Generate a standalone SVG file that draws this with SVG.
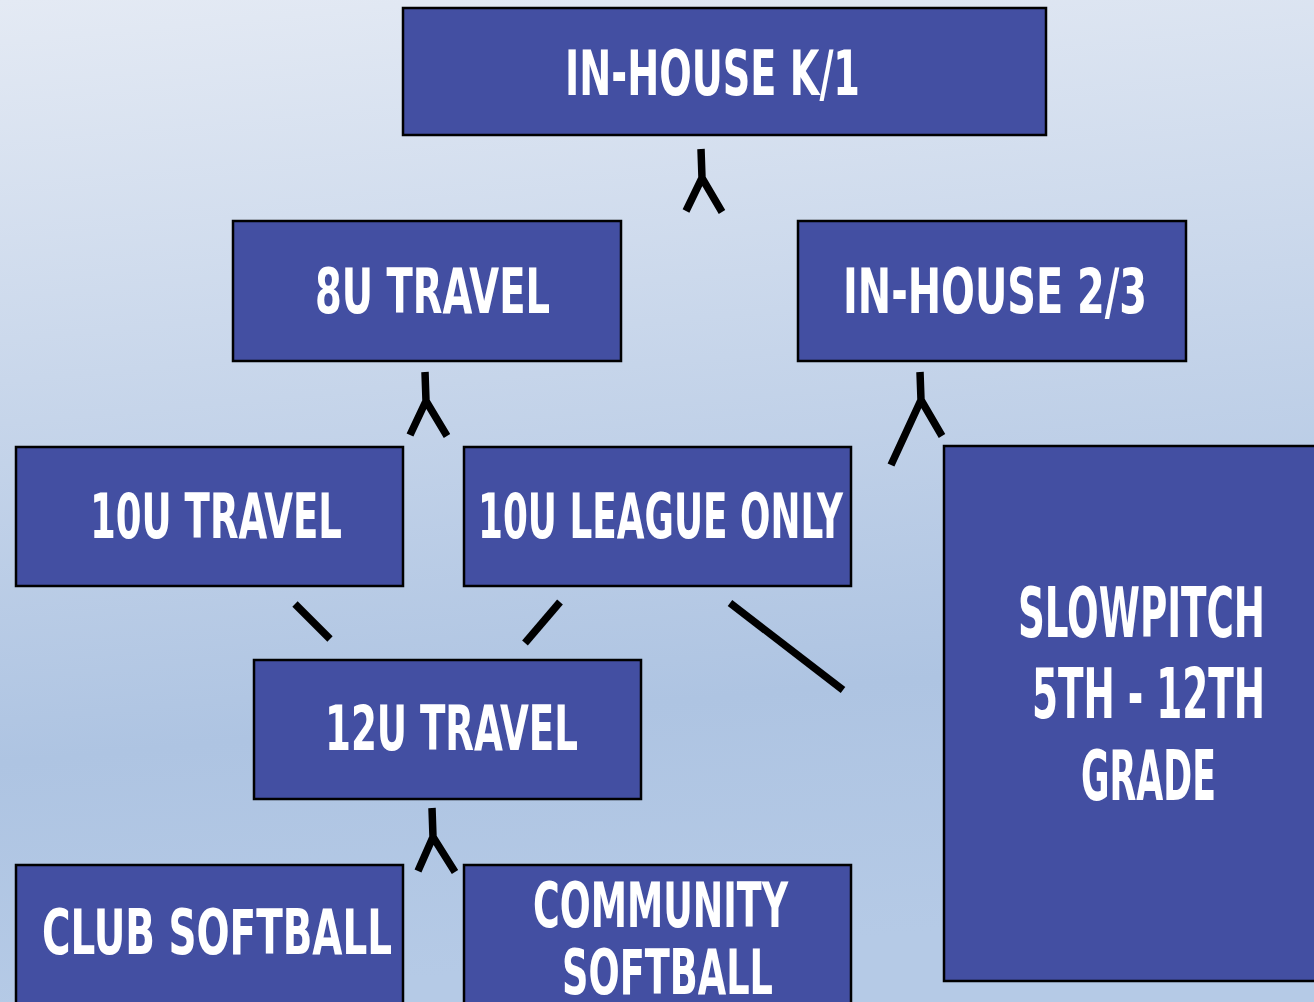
<svg xmlns="http://www.w3.org/2000/svg" width="1314" height="1002" viewBox="0 0 1314 1002">
  <defs>
    <linearGradient id="bg" x1="0" y1="0" x2="0.12" y2="1">
      <stop offset="0" stop-color="#E4EAF4"/>
      <stop offset="0.75" stop-color="#AEC4E2"/>
      <stop offset="1" stop-color="#B5CAE6"/>
    </linearGradient>
    <style>
      .box { fill: #434FA2; stroke: #000000; stroke-width: 2.5; }
      .lbl { fill: #FFFFFF; font-family: "Liberation Sans Narrow", "DejaVu Sans Condensed", "Liberation Sans", sans-serif; font-weight: bold; font-size: 63px; }
      .big { font-size: 70px; text-anchor: middle; }
      .conn { fill: none; stroke: #000000; stroke-width: 7.5; stroke-linecap: butt; stroke-linejoin: miter; }
    </style>
  </defs>
  <rect x="0" y="0" width="1314" height="1002" fill="url(#bg)"/>

  <g id="connectors">
    <path class="conn" d="M701 149 L702 178 M702 178 L686 211 M702 178 L722 212"/>
    <path class="conn" d="M425 372 L426 401 M426 401 L410 435 M426 401 L447 436"/>
    <path class="conn" d="M920 372 L921 400 M921 400 L891 465 M921 400 L942 436"/>
    <path class="conn" d="M432 808 L433 837 M433 837 L418 871 M433 837 L455 872"/>
    <path class="conn" d="M295 604 L330 639"/>
    <path class="conn" d="M560 602 L525 643"/>
    <path class="conn" d="M730 603 L843 690"/>
  </g>

  <g id="node-inhouse-k1">
    <rect class="box" x="403" y="8" width="643" height="127"/>
    <text class="lbl" x="565" y="95" textLength="295" lengthAdjust="spacingAndGlyphs">IN-HOUSE K/1</text>
  </g>
  <g id="node-8u-travel">
    <rect class="box" x="233" y="221" width="388" height="140"/>
    <text class="lbl" x="315" y="313" textLength="235" lengthAdjust="spacingAndGlyphs">8U TRAVEL</text>
  </g>
  <g id="node-inhouse-23">
    <rect class="box" x="798" y="221" width="388" height="140"/>
    <text class="lbl" x="843" y="313" textLength="304" lengthAdjust="spacingAndGlyphs">IN-HOUSE 2/3</text>
  </g>
  <g id="node-10u-travel">
    <rect class="box" x="16" y="447" width="387" height="139"/>
    <text class="lbl" x="90" y="538" textLength="252" lengthAdjust="spacingAndGlyphs">10U TRAVEL</text>
  </g>
  <g id="node-10u-league">
    <rect class="box" x="464" y="447" width="387" height="139"/>
    <text class="lbl" x="478" y="538" textLength="365" lengthAdjust="spacingAndGlyphs">10U LEAGUE ONLY</text>
  </g>
  <g id="node-12u-travel">
    <rect class="box" x="254" y="660" width="387" height="139"/>
    <text class="lbl" x="325" y="750" textLength="253" lengthAdjust="spacingAndGlyphs">12U TRAVEL</text>
  </g>
  <g id="node-slowpitch">
    <rect class="box" x="944" y="446" width="373" height="535"/>
    <text class="lbl big" transform="matrix(0.6 0 0 1 1141.5 637)" x="0" y="0" textLength="411.7" lengthAdjust="spacingAndGlyphs">SLOWPITCH</text>
    <text class="lbl big" transform="matrix(0.6 0 0 1 1148.5 718)" x="0" y="0" textLength="388.3" lengthAdjust="spacingAndGlyphs">5TH - 12TH</text>
    <text class="lbl big" transform="matrix(0.6 0 0 1 1148.5 800)" x="0" y="0" textLength="225" lengthAdjust="spacingAndGlyphs">GRADE</text>
  </g>
  <g id="node-club-softball">
    <rect class="box" x="16" y="865" width="387" height="160"/>
    <text class="lbl" x="42" y="954" textLength="350" lengthAdjust="spacingAndGlyphs">CLUB SOFTBALL</text>
  </g>
  <g id="node-community-softball">
    <rect class="box" x="464" y="865" width="387" height="160"/>
    <text class="lbl" x="533" y="927" textLength="255" lengthAdjust="spacingAndGlyphs">COMMUNITY</text>
    <text class="lbl" x="562" y="994" textLength="211" lengthAdjust="spacingAndGlyphs">SOFTBALL</text>
  </g>
</svg>
